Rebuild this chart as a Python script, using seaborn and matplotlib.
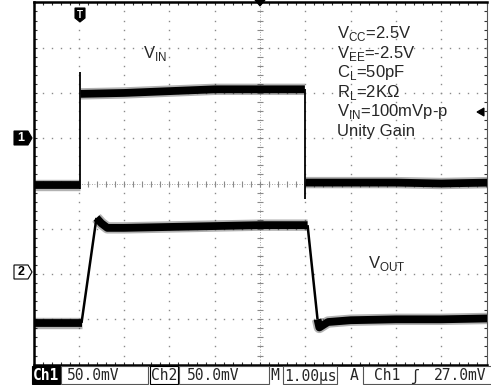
import numpy as np
import pandas as pd
import matplotlib
matplotlib.use("Agg")
import matplotlib.pyplot as plt
import seaborn as sns
from matplotlib.patches import Rectangle, Polygon

# ---------------- data (time in us, level in mV) ----------------
vin_low_a_t = [-1.02, 0.03]
vin_low_a_mv = [-52, -52]
vin_rise_t = [0.03, 0.03]
vin_rise_mv = [-56, 73]
vin_high_t = [0.04, 1.0, 2.0, 3.0, 4.0, 4.99]
vin_high_mv = [49, 50, 52, 54, 54, 54]
vin_fall_t = [5.0, 5.0]
vin_fall_mv = [54, -67]
vin_low_b_t = [5.01, 6.0, 7.0, 8.0, 9.05]
vin_low_b_mv = [-49, -49, -49, -50, -49]

vout_low_a_t = [-1.02, 0.0, 0.06]
vout_low_a_mv = [-54, -54, -54]
vout_rise_t = [0.06, 0.39]
vout_rise_mv = [-54, 62]
vout_high_t = [0.39, 0.5, 0.63, 1.0, 2.0, 3.0, 4.0, 5.05]
vout_high_mv = [62, 56, 51, 51, 52, 53, 54, 54]
vout_fall_t = [5.05, 5.27]
vout_fall_mv = [54, -50]
vout_low_b_t = [5.27, 5.31, 5.5, 6.0, 7.0, 8.0, 9.05]
vout_low_b_mv = [-50, -59, -53, -51, -50, -50, -49]

ch1_ground_div = 1.0
ch2_ground_div = -2.0
mv_per_div = 50.0

conditions = [r"V$_{\mathregular{CC}}$=2.5V", r"V$_{\mathregular{EE}}$=-2.5V",
              r"C$_{\mathregular{L}}$=50pF", r"R$_{\mathregular{L}}$=2KΩ",
              r"V$_{\mathregular{IN}}$=100mVp-p", "Unity Gain"]
status_labels = ["Ch1", "50.0mV", "Ch2", "50.0mV", "M", "1.00µs", "A", "Ch1", "ʃ", "27.0mV"]

# ---------------- figure ----------------
sns.set_theme(style="white")
plt.rcParams['font.family'] = ['Liberation Sans', 'DejaVu Sans']
plt.rcParams['mathtext.fontset'] = 'custom'
plt.rcParams['mathtext.rm'] = 'Liberation Sans'

W, H = 491, 385
fig = plt.figure(figsize=(W / 100, H / 100), dpi=100)
fig.patch.set_facecolor('white')

def fx(px):
    return px / W

def fy(py):
    return 1 - py / H

ax_l, ax_r, ax_t, ax_b = 33.5, 486.5, 2.4, 364.6
ax = fig.add_axes([fx(ax_l), fy(ax_b), (ax_r - ax_l) / W, (ax_b - ax_t) / H])
ax.set_xlim(-1, 9)
ax.set_ylim(-4, 4)
ax.set_facecolor('white')

# graticule
grid_c = '#8a8a8a'
minor_y = np.arange(-4, 4.001, 0.2)
minor_x = np.arange(-1, 9.001, 0.2)
for gx in range(0, 9):
    if gx == 4:
        continue
    ax.plot([gx] * len(minor_y), minor_y, ls='none', marker='s', ms=1.0, mew=0, color=grid_c, zorder=1)
for gy in range(-3, 4):
    if gy == 0:
        continue
    ax.plot(minor_x, [gy] * len(minor_x), ls='none', marker='s', ms=1.0, mew=0, color=grid_c, zorder=1)
# centre cross
ax.plot([4, 4], [-4, 4], ls=(0, (1, 2)), lw=0.6, color=grid_c, zorder=1)
ax.plot([-1, 9], [0, 0], ls=(0, (1, 2)), lw=0.6, color=grid_c, zorder=1)
ax.plot([4] * len(minor_y), minor_y, ls='none', marker='_', ms=4, mew=0.8, color=grid_c, zorder=1)
ax.plot(minor_x, [0] * len(minor_x), ls='none', marker='|', ms=4, mew=0.8, color=grid_c, zorder=1)

# traces
def to_div(mv, ground):
    return [ground + v / mv_per_div for v in mv]

thick, thin = 5.6, 1.3
segs = [
    (vin_low_a_t, vin_low_a_mv, ch1_ground_div, thick),
    (vin_rise_t, vin_rise_mv, ch1_ground_div, thin),
    (vin_high_t, vin_high_mv, ch1_ground_div, thick),
    (vin_fall_t, vin_fall_mv, ch1_ground_div, thin),
    (vin_low_b_t, vin_low_b_mv, ch1_ground_div, thick),
    (vout_low_a_t, vout_low_a_mv, ch2_ground_div, thick),
    (vout_rise_t, vout_rise_mv, ch2_ground_div, 1.8),
    (vout_high_t, vout_high_mv, ch2_ground_div, thick),
    (vout_fall_t, vout_fall_mv, ch2_ground_div, 1.8),
    (vout_low_b_t, vout_low_b_mv, ch2_ground_div, thick),
]
for t, mv, g, lw in segs:
    df = pd.DataFrame({"t": t, "v": to_div(mv, g)})
    if lw == thick:
        sns.lineplot(data=df, x="t", y="v", ax=ax, color='black', lw=lw + 2.6, alpha=0.3,
                     estimator=None, sort=False, legend=False, zorder=2,
                     solid_capstyle='butt')
    sns.lineplot(data=df, x="t", y="v", ax=ax, color='black', lw=lw,
                 estimator=None, sort=False, legend=False, zorder=3,
                 solid_capstyle='butt')

ax.set_xlabel("")
ax.set_ylabel("")
ax.set_xticks(np.arange(-1, 9.01, 1))
ax.set_yticks(np.arange(-4, 4.01, 1))
ax.set_xticks(minor_x, minor=True)
ax.set_yticks(minor_y, minor=True)
ax.set_xticklabels([])
ax.set_yticklabels([])
ax.tick_params(which='both', direction='in', length=2.5, width=0.8, color='#333333',
               top=True, bottom=True, left=True, right=True)
for s in ['left', 'bottom', 'top']:
    ax.spines[s].set_color('black')
    ax.spines[s].set_linewidth(1.8)
ax.spines['right'].set_color('#555555')
ax.spines['right'].set_linewidth(0.8)

# labels on screen
fig.text(fx(143), fy(58), r"V$_{\mathregular{IN}}$", fontsize=12, ha='left', va='baseline')
fig.text(fx(368), fy(268), r"V$_{\mathregular{OUT}}$", fontsize=12, ha='left', va='baseline')
for i, s in enumerate(conditions):
    fig.text(fx(337), fy(38 + 19.6 * i), s, fontsize=12, ha='left', va='baseline')

# markers
def poly(pts, fc, ec='black', lw=0.8):
    fig.add_artist(Polygon([(fx(x), fy(y)) for x, y in pts], closed=True,
                           transform=fig.transFigure, fc=fc, ec=ec, lw=lw, zorder=5))

poly([(14, 131), (28, 131), (32, 138), (28, 145), (14, 145)], 'black')
fig.text(fx(21), fy(138), "1", color='white', fontsize=9, fontweight='bold', ha='center', va='center',
         zorder=6)
poly([(14, 265), (28, 265), (32, 272), (28, 279), (14, 279)], 'white')
fig.text(fx(21), fy(272), "2", color='black', fontsize=9, fontweight='bold', ha='center', va='center',
         zorder=6)
poly([(75, 8), (85, 8), (85, 18), (80, 22), (75, 18)], 'black')
fig.text(fx(80), fy(14.5), "T", color='white', fontsize=7, fontweight='bold', ha='center', va='center',
         zorder=6)
poly([(255, 0), (265, 0), (260, 6)], 'black')
poly([(477, 112), (484, 108), (484, 116)], 'black')

# status bar
mono = 'DejaVu Sans Mono'
sy0, sy1 = 366, 384
def box(x0, x1, fc='white', ec='#555555'):
    fig.add_artist(Rectangle((fx(x0), fy(sy1)), (x1 - x0) / W, (sy1 - sy0) / H,
                             transform=fig.transFigure, fc=fc, ec=ec, lw=0.8, zorder=5))

box(32, 60, fc='black', ec='black')
box(61, 148)
box(150, 178, ec='black')
box(179, 269)
box(283, 337)
box(363, 492)
ty = fy(376)
fig.text(fx(46), ty, status_labels[0], color='white', fontsize=10.5, family=mono, fontweight='bold',
         ha='center', va='center', zorder=6)
fig.text(fx(67), ty, status_labels[1], fontsize=10.5, family=mono, ha='left', va='center', zorder=6)
fig.text(fx(164), ty, status_labels[2], fontsize=10.5, family=mono, ha='center', va='center', zorder=6)
fig.text(fx(187), ty, status_labels[3], fontsize=10.5, family=mono, ha='left', va='center', zorder=6)
fig.text(fx(270), ty, status_labels[4], fontsize=10.5, family=mono, ha='left', va='center', zorder=6)
fig.text(fx(284), ty, status_labels[5], fontsize=10.5, family=mono, ha='left', va='center', zorder=6)
fig.text(fx(350), ty, status_labels[6], fontsize=10.5, family=mono, ha='left', va='center', zorder=6)
fig.text(fx(374), ty, status_labels[7], fontsize=10.5, family=mono, ha='left', va='center', zorder=6)
fig.text(fx(410), ty, status_labels[8], fontsize=10.5, family=mono, ha='left', va='center', zorder=6)
fig.text(fx(434), ty, status_labels[9], fontsize=10.5, family=mono, ha='left', va='center', zorder=6)

fig.savefig("out.png", dpi=100, facecolor='white')
